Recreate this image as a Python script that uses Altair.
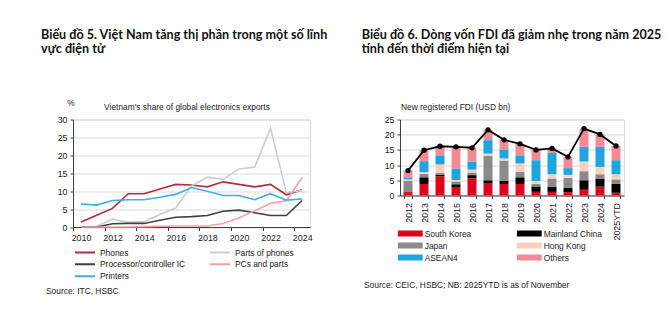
import altair as alt
import pandas as pd

BODYF = "Liberation Sans, Arial, sans-serif"
TITLEF = "Lato, Open Sans, sans-serif"
FS = 8.4

# ---------------- Left chart data ----------------
years = list(range(2010, 2025))
phones = [1.4, 3.3, 5.2, 9.3, 9.3, 10.6, 11.9, 11.7, 11.2, 12.6, 11.9, 11.2, 11.9, 9.0, 10.4]
parts_of_phones = [0.0, 0.2, 2.2, 1.3, 1.5, 3.5, 5.3, 11.5, 13.9, 13.3, 16.2, 16.7, 27.6, 9.6, 10.2]
processor_ic = [0.0, 0.0, 0.9, 1.0, 1.0, 1.9, 2.7, 2.9, 3.2, 4.4, 4.7, 4.0, 3.2, 3.2, 7.4]
pcs_parts = [0.0, 0.0, 0.0, 0.0, 0.1, 0.2, 0.3, 0.3, 0.3, 1.0, 2.5, 4.5, 6.6, 7.3, 13.8]
printers = [6.4, 6.1, 7.4, 7.6, 7.6, 8.3, 9.1, 11.0, 10.0, 8.8, 8.8, 7.6, 9.3, 7.5, 7.8]
left_series = ["Phones", "Parts of phones", "Processor/controller IC", "PCs and parts", "Printers"]
left_colors = ["#b22a3e", "#cccccc", "#404040", "#f4a1a8", "#3bb0de"]
# axis ticks sit between the labelled years (2009.5 -> label 2010, ...)
left_x_ticks = [2009.5, 2011.5, 2013.5, 2015.5, 2017.5, 2019.5, 2021.5, 2023.5]
left_y_ticks = [0, 5, 10, 15, 20, 25, 30]

# ---------------- Right chart data ----------------
fdi_years = ["2012", "2013", "2014", "2015", "2016", "2017", "2018", "2019",
             "2020", "2021", "2022", "2023", "2024", "2025YTD"]
south_korea = [1.1, 3.8, 6.3, 2.8, 5.6, 4.1, 3.8, 3.8, 1.2, 1.2, 1.1, 1.9, 2.9, 0.9]
mainland_china = [0.2, 2.2, 0.5, 0.9, 1.1, 0.9, 1.0, 2.2, 1.8, 1.6, 1.4, 3.1, 2.7, 3.0]
japan = [3.5, 1.1, 0.7, 0.9, 0.9, 8.0, 6.7, 1.8, 0.8, 2.8, 3.3, 3.0, 1.4, 1.4]
hong_kong = [0.5, 0.6, 2.7, 0.5, 0.9, 0.8, 0.7, 2.7, 1.0, 1.4, 1.0, 3.2, 2.4, 1.7]
asean4 = [0.7, 3.6, 3.0, 3.8, 2.7, 4.4, 2.8, 2.7, 6.8, 7.0, 2.2, 4.8, 6.6, 4.6]
others = [2.2, 3.6, 3.0, 7.1, 4.5, 3.4, 3.3, 3.8, 3.4, 1.5, 3.7, 6.0, 4.1, 4.7]
fdi_total = [8.2, 14.9, 16.2, 16.0, 15.7, 21.6, 18.3, 17.0, 15.0, 15.5, 12.7, 22.0, 20.1, 16.3]
regions = ["South Korea", "Mainland China", "Japan", "Hong Kong", "ASEAN4", "Others"]
region_colors = ["#e2001a", "#000000", "#8a8a8a", "#fbd0bd", "#1ba6e0", "#f48a97"]
right_y_ticks = [0, 5, 10, 15, 20, 25]

# ---------------- Texts ----------------
title_left = ["Biểu đồ 5. Việt Nam tăng thị phần trong một số lĩnh", "vực điện tử"]
title_right = ["Biểu đồ 6. Dòng vốn FDI đã giảm nhẹ trong năm 2025", "tính đến thời điểm hiện tại"]
sub_left = "Vietnam's share of global electronics exports"
unit_left = "%"
sub_right = "New registered FDI  (USD bn)"
source_left = "Source: ITC, HSBC"
source_right = "Source: CEIC, HSBC; NB: 2025YTD is as of November"

# ---------------- Build tables ----------------
rows = []
for name, vals in zip(left_series, [phones, parts_of_phones, processor_ic, pcs_parts, printers]):
    for y, v in zip(years, vals):
        rows.append({"year": y, "series": name, "value": v})
left_df = pd.DataFrame(rows)

rows = []
for i, (name, vals) in enumerate(zip(regions, [south_korea, mainland_china, japan, hong_kong, asean4, others])):
    for y, v in zip(fdi_years, vals):
        rows.append({"year": y, "region": name, "value": v, "idx": i})
fdi_df = pd.DataFrame(rows)
total_df = pd.DataFrame({"year": fdi_years, "total": fdi_total})

LW, LH = 237, 107.5
RW, RH = 224, 76
TOP = 119.2


def text_layer(txt, x, y, size=FS, font=BODYF, weight="normal", align="left", color="#222222"):
    return alt.Chart(pd.DataFrame({"t": [txt]})).mark_text(
        align=align, baseline="middle", fontSize=size, font=font, fontWeight=weight, color=color
    ).encode(x=alt.value(x), y=alt.value(y), text="t:N")


axis_common = dict(labelFont=BODYF, labelFontSize=FS + 0.5, labelColor="#222222",
                   domainColor="#404040", tickColor="#404040", title=None)

lines = alt.Chart(left_df).mark_line(strokeWidth=1.6).encode(
    x=alt.X("year:Q", scale=alt.Scale(domain=[2009.5, 2024.5], nice=False, zero=False),
            axis=alt.Axis(values=left_x_ticks, labelExpr="format(datum.value + 0.5, 'd')",
                          grid=False, ticks=True, tickSize=3.5, labelOffset=8,
                          labelPadding=3, labelFlush=False, **axis_common)),
    y=alt.Y("value:Q", scale=alt.Scale(domain=[0, 30], nice=False),
            axis=alt.Axis(values=left_y_ticks, grid=True, gridColor="#d9d9d9", tickSize=3,
                          labelPadding=3, **axis_common)),
    color=alt.Color("series:N", sort=left_series,
                    scale=alt.Scale(domain=left_series, range=left_colors),
                    legend=alt.Legend(title=None, orient="none", direction="horizontal",
                                      legendX=1, legendY=127,
                                      columns=2, symbolType="stroke", symbolSize=400,
                                      symbolStrokeWidth=2, labelFont=BODYF, labelFontSize=FS,
                                      labelColor="#222222", columnPadding=23, rowPadding=0,
                                      clipHeight=11.5, labelOffset=4)),
)

left = alt.layer(
    lines,
    text_layer(title_left[0], 40 - 72, 35 - TOP, size=12.6, font=TITLEF, weight="bold", color="#111111"),
    text_layer(title_left[1], 40 - 72, 49 - TOP, size=12.6, font=TITLEF, weight="bold", color="#111111"),
    text_layer(unit_left, 70 - 72, 102.3 - TOP, align="center"),
    text_layer(sub_left, 186 - 72, 106.7 - TOP, align="center"),
    text_layer(source_left, 45 - 72, 290.7 - TOP),
).properties(width=LW, height=LH)

right_y_axis = dict(values=right_y_ticks, grid=True, gridColor="#d9d9d9", tickSize=3,
                    labelPadding=3, **axis_common)

bars = alt.Chart(fdi_df).mark_bar().encode(
    x=alt.X("year:N", sort=fdi_years, scale=alt.Scale(paddingInner=0.44, paddingOuter=0.22),
            axis=alt.Axis(labelAngle=-90, ticks=True, tickBand="extent", tickSize=3,
                          labelPadding=4, **axis_common)),
    y=alt.Y("value:Q", stack="zero", scale=alt.Scale(domain=[0, 25], nice=False),
            axis=alt.Axis(**right_y_axis)),
    color=alt.Color("region:N", sort=regions,
                    scale=alt.Scale(domain=regions, range=region_colors),
                    legend=alt.Legend(title=None, orient="none", direction="horizontal",
                                      legendX=-2.3, legendY=108,
                                      columns=2, symbolType="M-1,-0.24H1V0.24H-1Z",
                                      symbolSize=625, symbolStrokeWidth=0, symbolOpacity=1,
                                      labelFont=BODYF, labelFontSize=FS, labelColor="#222222",
                                      columnPadding=45, rowPadding=0, clipHeight=12,
                                      labelOffset=2)),
    order=alt.Order("idx:Q", sort="ascending"),
)

total_line = alt.Chart(total_df).mark_line(
    color="#000000", strokeWidth=1.8,
    point=alt.OverlayMarkDef(color="#000000", size=28, filled=True),
).encode(
    x=alt.X("year:N", sort=fdi_years),
    y=alt.Y("value:Q", scale=alt.Scale(domain=[0, 25], nice=False),
            axis=alt.Axis(**right_y_axis)),
).transform_calculate(value="datum.total")

right = alt.layer(
    bars,
    total_line,
    text_layer(title_right[0], 360.7 - 399, 35 - TOP, size=12.6, font=TITLEF, weight="bold", color="#111111"),
    text_layer(title_right[1], 360.7 - 399, 49 - TOP, size=12.6, font=TITLEF, weight="bold", color="#111111"),
    text_layer(sub_right, 400 - 399, 106.7 - TOP),
    text_layer(source_right, 363 - 399, 285 - TOP),
).properties(width=RW, height=RH)

chart = alt.hconcat(left, right, spacing=90, bounds="flush").resolve_scale(
    color="independent"
).properties(
    padding={"left": 40, "top": 28.5, "right": 5, "bottom": 5}
).configure_view(stroke=None).configure(background="white")

chart.save("out.html", embed_options={"renderer": "svg", "actions": False})
